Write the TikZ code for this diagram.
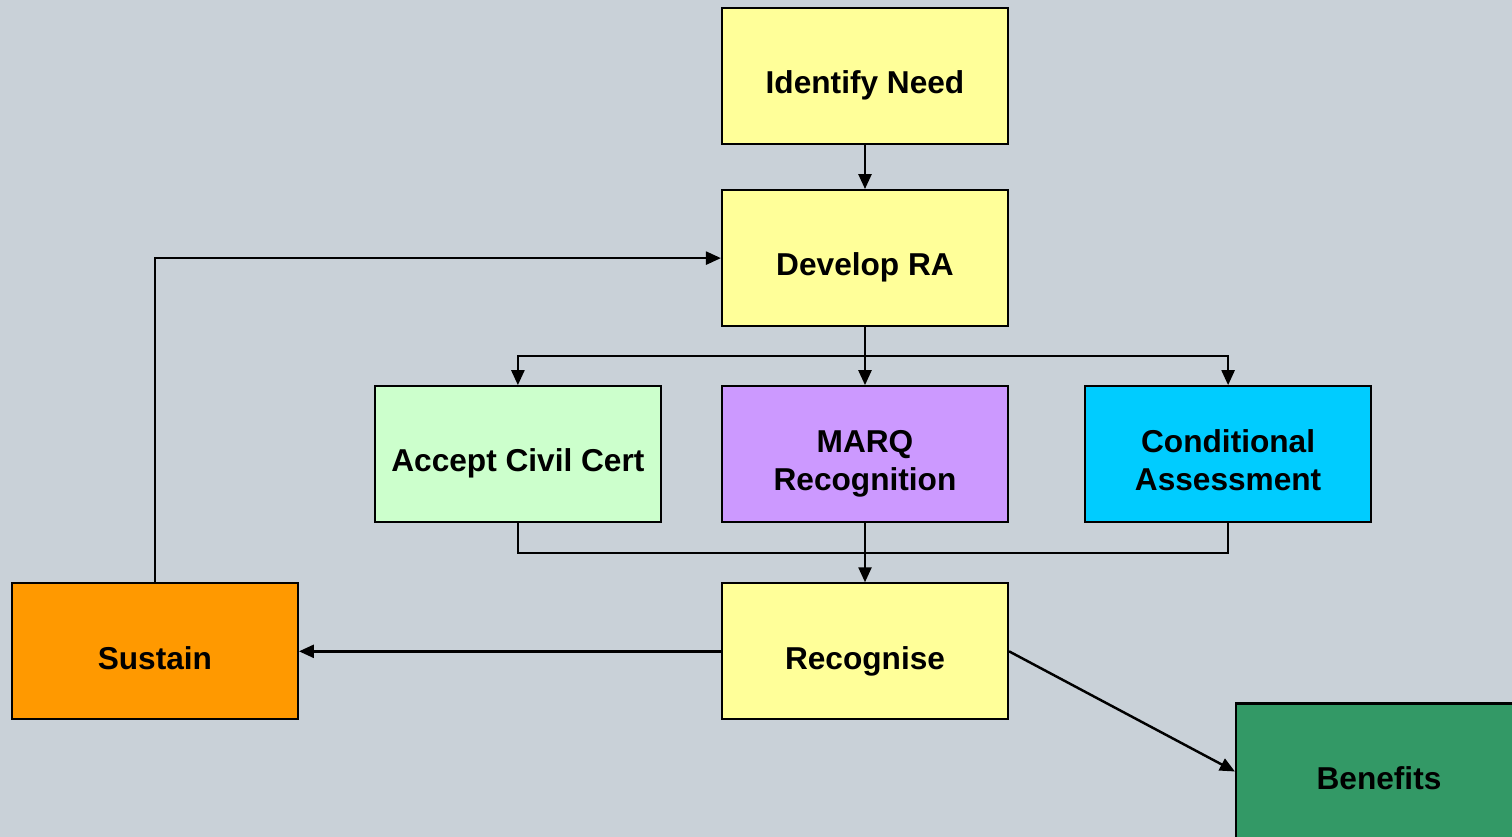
\documentclass[tikz,border=0pt]{standalone}
\usepackage{fontspec}
\setmainfont{Liberation Sans}
\usetikzlibrary{positioning,calc,arrows.meta}

\definecolor{bgcol}{HTML}{C9D1D8}
\definecolor{stepyellow}{HTML}{FFFF99}
\definecolor{certgreen}{HTML}{CCFFCC}
\definecolor{marqpurple}{HTML}{CC99FF}
\definecolor{condcyan}{HTML}{00CCFF}
\definecolor{sustorange}{HTML}{FF9900}
\definecolor{benegreen}{HTML}{339966}

\begin{document}
\begin{tikzpicture}[
			node distance=0.58cm and 0.59cm,
			every node/.style={font=\fontsize{9}{10.8}\selectfont\bfseries},
			stage/.style={rectangle, draw=black, line width=0.6pt, minimum width=2.86cm, minimum height=1.36cm, align=center, inner sep=0pt, text height=12pt, text depth=1.9pt},
			twoline/.style={text height=22.6pt},
			link/.style={draw=black, line width=0.7pt, -{Triangle[length=1.5mm, width=1.3mm]}},
			bus/.style={draw=black, line width=0.7pt}
			]
			
			\useasboundingbox (0,0) rectangle (15.12,-8.37);
			\fill [bgcol] (0,0) rectangle (15.12,-8.37);
			
			\node (need) at (8.65, -0.76) [stage, fill=stepyellow] {Identify Need};
			\node (dev) [below=0.44cm of need, stage, fill=stepyellow] {Develop RA};
			
			\node (marq) [below=of dev, stage, twoline, fill=marqpurple] {MARQ\\Recognition};
			\node (civil) [left=of marq, stage, fill=certgreen] {Accept Civil Cert};
			\node (cond) [right=0.75cm of marq, stage, twoline, fill=condcyan] {Conditional\\Assessment};
			
			\node (recog) [below=0.59cm of marq, stage, fill=stepyellow] {Recognise};
			\node (sustain) [left=4.22cm of recog, stage, fill=sustorange] {Sustain};
			\node (benefits) at (13.79, -7.715) [stage, fill=benegreen] {Benefits};
			
			\coordinate (split) at ($(dev.south)!0.5!(marq.north)$);
			\coordinate (join) at ($(marq.south)!0.5!(recog.north)$);
			
			\draw [link] (need) -- (dev);
			
			\draw [link] (dev.south) -- (marq.north);
			\draw [link] (split) -| (civil.north);
			\draw [link] (split) -| (cond.north);
			
			\draw [bus] (civil.south) |- (join);
			\draw [bus] (cond.south) |- (join);
			\draw [link] (marq.south) -- (recog.north);
			
			\draw [link] (recog) -- (sustain);
			\draw [link] (sustain.north) |- (dev.west);
			\draw [link] (recog.east) -- (benefits.west);
			\end{tikzpicture}
\end{document}
